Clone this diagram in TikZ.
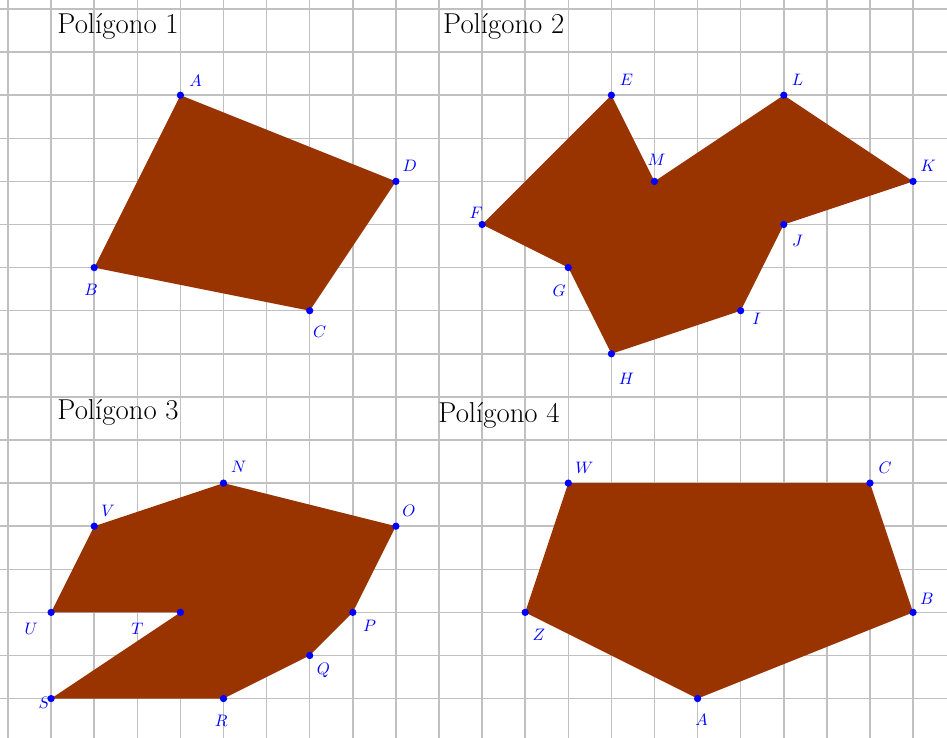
\documentclass[tikz,border=0pt]{standalone}
\usepackage{tikz}
\usetikzlibrary{calc}
\definecolor{polyfill}{HTML}{993300}
\definecolor{gridgray}{HTML}{C0C0C0}
\tikzset{
  gridline/.style={draw=gridgray, line width=1pt},
  poly/.style={fill=polyfill, draw=none},
  pt/.style={circle, fill=blue, inner sep=0pt, minimum size=4.8pt},
  lab/.style={text=blue, font=\fontsize{10.5}{12}\selectfont, inner sep=0pt},
  title/.style={anchor=base west, inner sep=0pt, font=\fontsize{19}{22}\selectfont}
}
\begin{document}
\begin{tikzpicture}
\useasboundingbox (-0.186,0.209) rectangle (21.787,-16.91);
\draw[gridline] (-0.186,0.209) grid (21.787,-16.91);

% titles
\node[title] (t1) at (1.14,-0.557) {Polígono 1};
\node[title] (t2) at (10.09,-0.557) {Polígono 2};
\node[title] (t3) at (1.14,-9.53) {Polígono 3};
\node[title] (t4) at (9.98,-9.59) {Polígono 4};

% Polygon 1
\fill[poly] (4,-2) -- (9,-4) -- (7,-7) -- (2,-6) -- cycle;
% Polygon 2
\fill[poly] (14,-2) -- (15,-4) -- (18,-2) -- (21,-4) -- (18,-5) -- (17,-7) -- (14,-8) -- (13,-6) -- (11,-5) -- cycle;
% Polygon 3
\fill[poly] (5,-11) -- (9,-12) -- (8,-14) -- (7,-15) -- (5,-16) -- (1,-16) -- (4,-14) -- (1,-14) -- (2,-12) -- cycle;
% Polygon 4
\fill[poly] (13,-11) -- (20,-11) -- (21,-14) -- (16,-16) -- (12,-14) -- cycle;

% points and labels
\foreach \n/\x/\y/\dx/\dy/\t in {
  pA/4/-2/0.35/0.33/A, pD/9/-4/0.32/0.37/D, pC/7/-7/0.23/-0.49/C, pB/2/-6/-0.07/-0.51/B,
  pE/14/-2/0.35/0.35/E, pM/15/-4/0.05/0.49/M, pL/18/-2/0.32/0.35/L, pK/21/-4/0.35/0.37/K,
  pJ/18/-5/0.32/-0.37/J, pI/17/-7/0.37/-0.19/I, pH/14/-8/0.35/-0.58/H, pG/13/-6/-0.21/-0.53/G,
  pF/11/-5/-0.14/0.28/F,
  pN/5/-11/0.35/0.37/N, pV/2/-12/0.32/0.35/V, pO/9/-12/0.30/0.35/O, pU/1/-14/-0.46/-0.39/U,
  pT/4/-14/-1.0/-0.39/T, pP/8/-14/0.39/-0.32/P, pQ/7/-15/0.32/-0.35/Q, pR/5/-16/-0.05/-0.51/R,
  pS/1/-16/-0.16/-0.09/S,
  qW/13/-11/0.37/0.35/W, qC/20/-11/0.35/0.35/C, qB/21/-14/0.32/0.32/B, qA/16/-16/0.09/-0.49/A,
  qZ/12/-14/0.32/-0.53/Z}
{
  \node[pt] (\n) at (\x,\y) {};
  \node[lab] (\n-l) at ($(\x,\y)+(\dx,\dy)$) {$\t$};
}
\end{tikzpicture}
\end{document}
